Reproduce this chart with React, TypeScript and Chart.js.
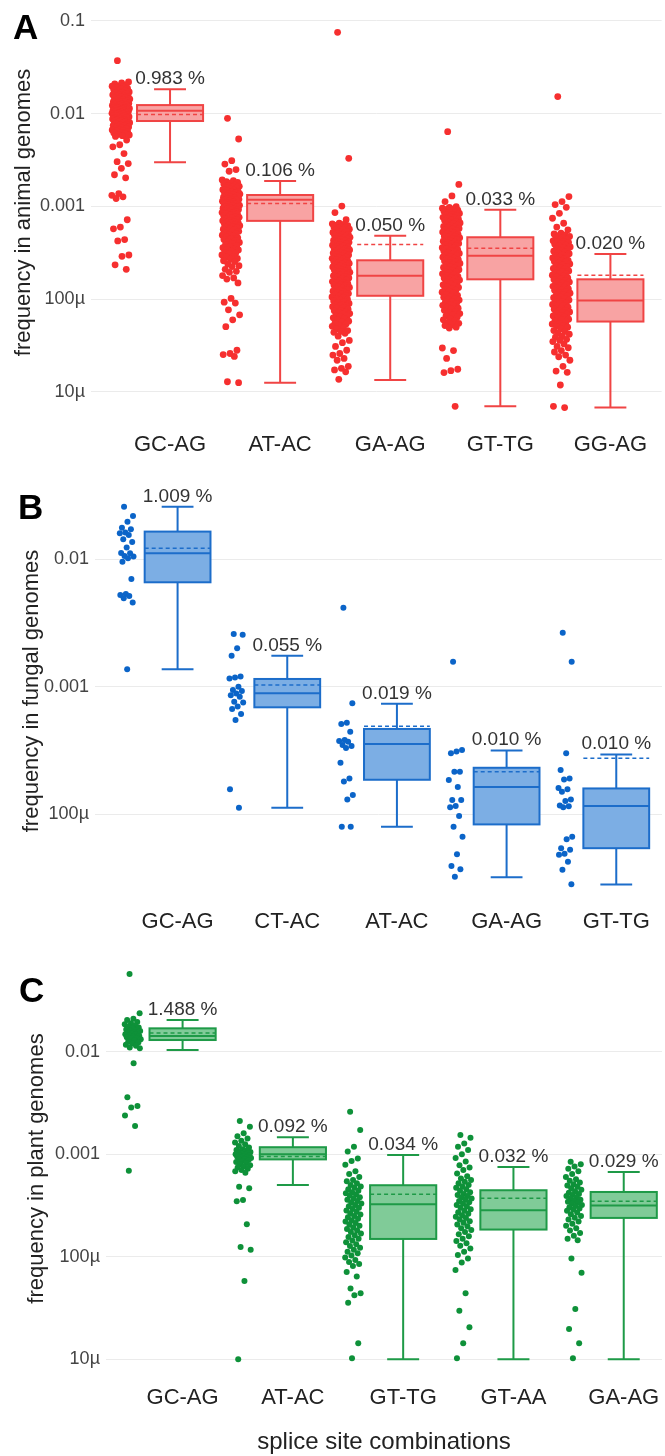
import React, { useEffect, useRef } from 'react';
import { Chart, registerables } from 'chart.js';

Chart.register(...registerables);

const MICRO = 1e-6;
const FONT = '"Liberation Sans", Arial, Helvetica, sans-serif';

// ---------- shared tick labels ----------
const TICK_VALUES = [0.1, 0.01, 0.001, 1e-4, 1e-5];
const TICK_LABELS = ['0.1', '0.01', '0.001', '100µ', '10µ'];

// ---------- Panel A: animal genomes ----------
const A_CATEGORIES = ['GC-AG', 'AT-AC', 'GA-AG', 'GT-TG', 'GG-AG'];
const A_PERCENT_LABELS = ['0.983 %', '0.106 %', '0.050 %', '0.033 %', '0.020 %'];
const A_WHISKER_HIGH = [0.0184, 0.00188, 0.000484, 0.000925, 0.000308];
const A_Q3 = [0.0124, 0.00133, 0.000263, 0.000466, 0.000164];
const A_MEDIAN = [0.0108, 0.00118, 0.000179, 0.000295, 0.000097];
const A_MEAN = [0.00983, 0.00108, 0.00039, 0.000355, 0.000181];
const A_Q1 = [0.00835, 0.0007, 0.000109, 0.000164, 0.0000575];
const A_WHISKER_LOW = [0.003, 0.0000126, 0.0000135, 0.000007, 0.0000068];
// genome values in µ (1e-6)
const A_PTS_GCAG = [37300, 22000, 21500, 21000, 20500, 20000, 19800, 19500, 19000, 18800, 18500, 18200, 17800, 17500, 17200, 17000, 16800, 16500, 16200, 16000, 15800, 15500, 15400, 15200, 15000, 14800, 14600, 14400, 14200, 14000, 13800, 13600, 13500, 13300, 13200, 13000, 12900, 12700, 12600, 12400, 12300, 12100, 12000, 11900, 11800, 11700, 11600, 11500, 11400, 11300, 11200, 11100, 11000, 10900, 10800, 10700, 10600, 10500, 10400, 10300, 10200, 10100, 10000, 9900, 9800, 9700, 9600, 9500, 9400, 9300, 9200, 9100, 9000, 8900, 8800, 8700, 8600, 8500, 8400, 8300, 8200, 8100, 8000, 7900, 7800, 7700, 7600, 7500, 7400, 7300, 7200, 7100, 7000, 6900, 6800, 6700, 6600, 6500, 6400, 6300, 6200, 6100, 6000, 5900, 5800, 5700, 5200, 4630, 4400, 3720, 3040, 2900, 2580, 2200, 2040, 1380, 1320, 1270, 1220, 720, 600, 575, 440, 425, 300, 290, 235, 210];
const A_PTS_ATAC = [8930, 5340, 3120, 2870, 2500, 2400, 1930, 1900, 1850, 1820, 1780, 1750, 1700, 1680, 1650, 1620, 1600, 1580, 1550, 1520, 1500, 1480, 1450, 1440, 1420, 1400, 1380, 1360, 1340, 1320, 1300, 1280, 1260, 1240, 1220, 1200, 1190, 1180, 1170, 1150, 1140, 1120, 1110, 1090, 1080, 1070, 1060, 1050, 1030, 1020, 1000, 990, 975, 960, 950, 940, 930, 915, 900, 885, 870, 860, 855, 840, 825, 810, 795, 780, 770, 765, 750, 735, 720, 710, 700, 690, 680, 670, 660, 650, 640, 630, 620, 610, 600, 590, 580, 570, 560, 550, 540, 530, 520, 510, 500, 490, 480, 470, 460, 450, 440, 430, 420, 410, 400, 390, 380, 370, 360, 350, 345, 340, 330, 320, 315, 310, 300, 290, 285, 275, 270, 260, 255, 240, 230, 225, 210, 200, 195, 180, 170, 165, 150, 102, 93, 91, 77, 68, 60, 50.6, 28.2, 26, 25.3, 24.2, 12.9, 12.6];
const A_PTS_GAAG = [75500, 3310, 1010, 860, 720, 660, 650, 640, 630, 620, 610, 600, 590, 585, 570, 560, 555, 540, 530, 525, 515, 510, 500, 495, 490, 480, 470, 465, 455, 450, 445, 438, 430, 425, 418, 412, 405, 400, 395, 388, 382, 376, 370, 364, 358, 352, 350, 346, 340, 335, 330, 325, 320, 315, 310, 305, 300, 295, 290, 285, 281, 276, 272, 268, 263, 260, 255, 250, 247, 243, 239, 235, 231, 227, 223, 220, 216, 212, 209, 205, 202, 200, 195, 192, 188, 185, 182, 179, 176, 173, 170, 167, 164, 161, 158, 155, 152, 150, 147, 145, 142, 140, 137, 134, 132, 130, 127, 125, 122, 120, 118, 115, 114, 112, 110, 108, 106, 104, 102, 100, 98, 96, 94, 92, 90, 88, 87, 85, 84, 83, 81, 80, 78, 76, 75, 73, 72, 70, 69, 67, 66, 65, 63, 62, 60, 58, 57, 55, 54, 52, 51, 49, 48, 46, 45, 44, 43, 40, 36, 34, 31, 28.2, 26, 25, 23, 22, 18.9, 18, 17.3, 16.5, 13.7];
const A_PTS_GTTG = [6410, 1730, 1300, 1130, 995, 980, 960, 945, 930, 915, 900, 885, 870, 855, 840, 820, 810, 795, 780, 765, 755, 740, 730, 715, 705, 690, 680, 665, 655, 640, 630, 620, 610, 600, 590, 580, 570, 560, 550, 540, 530, 520, 510, 500, 490, 482, 475, 467, 460, 452, 445, 440, 430, 422, 415, 408, 400, 392, 385, 378, 370, 360, 355, 348, 342, 336, 330, 324, 318, 312, 306, 300, 295, 289, 284, 278, 273, 268, 263, 258, 253, 250, 243, 238, 234, 229, 225, 220, 216, 210, 208, 204, 200, 196, 192, 188, 184, 180, 176, 172, 170, 168, 164, 161, 157, 154, 150, 147, 143, 140, 137, 134, 130, 128, 125, 122, 119, 116, 113, 110, 107, 105, 102, 100, 98, 95, 93, 90, 88, 86, 84, 82, 80, 78, 76, 74, 72, 70, 68, 66, 64, 62, 60, 58, 56, 55, 53, 52, 50, 49, 29.8, 28, 23, 17.6, 17, 16.2, 7.0];
const A_PTS_GGAG = [15300, 1280, 1130, 1050, 980, 845, 747, 660, 600, 560, 516, 505, 495, 485, 475, 465, 455, 445, 436, 427, 420, 418, 409, 400, 392, 383, 375, 367, 360, 352, 344, 337, 330, 323, 316, 310, 303, 297, 291, 285, 279, 273, 267, 262, 260, 256, 251, 245, 240, 235, 230, 225, 220, 215, 211, 205, 202, 198, 194, 190, 186, 182, 178, 174, 170, 166, 163, 160, 156, 153, 150, 147, 144, 141, 138, 135, 132, 129, 126, 125, 121, 118, 116, 113, 111, 108, 106, 104, 102, 100, 98, 95, 94, 92, 90, 88, 86, 84, 82, 80, 78, 76, 75, 73, 72, 70, 69, 67, 66, 64, 63, 61, 60, 58, 57, 55, 54, 52, 51, 50, 48, 46, 45, 43, 42, 40, 39, 37, 36, 35, 33, 31, 30, 28, 27, 25, 24, 22, 18.9, 16.8, 16.3, 11.9, 7.0, 6.8];
const A_POINTS = [A_PTS_GCAG, A_PTS_ATAC, A_PTS_GAAG, A_PTS_GTTG, A_PTS_GGAG];

// ---------- Panel B: fungal genomes ----------
const B_CATEGORIES = ['GC-AG', 'CT-AC', 'AT-AC', 'GA-AG', 'GT-TG'];
const B_PERCENT_LABELS = ['1.009 %', '0.055 %', '0.019 %', '0.010 %', '0.010 %'];
const B_WHISKER_HIGH = [0.0259, 0.00175, 0.000736, 0.000316, 0.000294];
const B_Q3 = [0.0165, 0.00115, 0.000466, 0.000231, 0.000159];
const B_MEDIAN = [0.01115, 0.000887, 0.000355, 0.000163, 0.000116];
const B_MEAN = [0.0122, 0.00103, 0.000489, 0.000215, 0.000274];
const B_Q1 = [0.0066, 0.000689, 0.000186, 0.000083, 0.000054];
const B_WHISKER_LOW = [0.00137, 0.000112, 0.0000797, 0.000032, 0.000028];
const B_PTS_GCAG = [25900, 21900, 19700, 17700, 17200, 16200, 16000, 15500, 14350, 13700, 12400, 11200, 11150, 10600, 10500, 10200, 9570, 7000, 5350, 5240, 5150, 4940, 4590, 1370];
const B_PTS_CTAC = [2590, 2560, 2000, 1750, 1200, 1180, 1160, 1000, 942, 925, 886, 855, 835, 762, 750, 700, 667, 611, 549, 157, 112];
const B_PTS_ATAC = [4170, 741, 521, 510, 443, 382, 375, 370, 349, 342, 330, 253, 190, 180, 141, 130, 79.6, 79.6];
const B_PTS_GAAG = [1570, 318, 310, 300, 215, 215, 185, 163, 129, 129, 116, 113, 96.6, 79.7, 66.5, 48.3, 39.1, 36.9, 32.3];
const B_PTS_GTTG = [2650, 1570, 300, 222, 190, 187, 160, 157, 150, 130, 127, 117, 115, 113, 66.5, 63.5, 54, 52.6, 48.8, 48, 42.3, 36.6, 28.2];
const B_POINTS = [B_PTS_GCAG, B_PTS_CTAC, B_PTS_ATAC, B_PTS_GAAG, B_PTS_GTTG];

// ---------- Panel C: plant genomes ----------
const C_CATEGORIES = ['GC-AG', 'AT-AC', 'GT-TG', 'GT-AA', 'GA-AG'];
const C_PERCENT_LABELS = ['1.488 %', '0.092 %', '0.034 %', '0.032 %', '0.029 %'];
const C_WHISKER_HIGH = [0.0204, 0.00146, 0.00098, 0.00075, 0.00067];
const C_Q3 = [0.0169, 0.00117, 0.000498, 0.000445, 0.000428];
const C_MEDIAN = [0.0142, 0.001, 0.000324, 0.000284, 0.000316];
const C_MEAN = [0.0152, 0.00095, 0.000406, 0.000371, 0.000347];
const C_Q1 = [0.013, 0.00089, 0.000149, 0.000184, 0.000239];
const C_WHISKER_LOW = [0.0104, 0.000501, 0.00001, 0.00001, 0.00001];
const C_PTS_GCAG = [57300, 23700, 21000, 20400, 19500, 19000, 18500, 18000, 17600, 17200, 16800, 16500, 16200, 16000, 15900, 15600, 15400, 15300, 15000, 14800, 14700, 14400, 14200, 14100, 13800, 13600, 13500, 13200, 12900, 12600, 12300, 12000, 11700, 11400, 11000, 10800, 7700, 3590, 2950, 2850, 2380, 1880, 690];
const C_PTS_ATAC = [2110, 1850, 1600, 1500, 1420, 1350, 1300, 1250, 1200, 1160, 1120, 1100, 1090, 1060, 1050, 1040, 1030, 1020, 1010, 1000, 990, 980, 970, 960, 950, 940, 930, 920, 900, 890, 880, 860, 840, 820, 800, 780, 760, 740, 720, 700, 680, 660, 482, 465, 357, 347, 207, 124, 117, 58, 10];
const C_PTS_GTTG = [2600, 1720, 1180, 1060, 910, 860, 790, 680, 640, 600, 560, 545, 520, 500, 485, 470, 455, 440, 425, 415, 405, 395, 380, 370, 360, 350, 340, 330, 320, 310, 300, 292, 283, 275, 266, 258, 250, 242, 234, 226, 220, 213, 206, 200, 193, 186, 180, 174, 168, 162, 156, 150, 144, 138, 132, 127, 122, 117, 112, 108, 103, 98, 93, 89, 85, 81, 71, 64, 49, 44, 42, 35.6, 14.3, 10.2];
const C_PTS_GTAA = [1540, 1450, 1270, 1180, 1100, 1000, 920, 850, 780, 740, 700, 650, 610, 580, 560, 540, 520, 500, 485, 470, 455, 440, 425, 410, 400, 390, 380, 370, 360, 350, 340, 330, 320, 310, 300, 290, 280, 271, 262, 254, 246, 238, 230, 222, 214, 206, 198, 190, 182, 174, 166, 158, 150, 142, 135, 128, 120, 112, 104, 96, 88, 74, 44, 29.7, 20.5, 14.3, 10.2];
const C_PTS_GAAG = [845, 800, 760, 720, 680, 640, 600, 570, 550, 530, 510, 495, 480, 465, 450, 435, 420, 410, 400, 390, 380, 370, 360, 352, 344, 336, 328, 320, 312, 304, 296, 288, 280, 270, 260, 250, 240, 230, 220, 210, 200, 190, 180, 170, 160, 150, 145, 96, 69.8, 30.9, 19.7, 14.3, 10.2];
const C_POINTS = [C_PTS_GCAG, C_PTS_ATAC, C_PTS_GTTG, C_PTS_GTAA, C_PTS_GAAG];

// ---------- layout / style ----------
const BOX_HALF = 0.30;
const CAP_HALF = 0.145;
const X_TICK_SIZE = 22;

const PANELS = [
  {
    letter: 'A', letterX: 13, letterBase: 39,
    top: 0, height: 470, plotTop: 10, plotBottom: 415, plotLeft: 91,
    anchorValue: 0.1, anchorPx: 21, decadePx: 92.75,
    xMin: -0.718, xMax: 4.465, xLabelGap: 30,
    yTitle: 'frequency in animal genomes', yTitleX: 24,
    point: '#F62F2F', line: '#F04444', fill: '#F8A3A3', radius: 3.4,
    ptOffset: -0.447, jitterHalf: 0.082,
    categories: A_CATEGORIES, labels: A_PERCENT_LABELS, hi: A_WHISKER_HIGH, q3: A_Q3,
    med: A_MEDIAN, mean: A_MEAN, q1: A_Q1, lo: A_WHISKER_LOW, points: A_POINTS,
  },
  {
    letter: 'B', letterX: 18, letterBase: 49,
    top: 470, height: 480, plotTop: 20, plotBottom: 422, plotLeft: 95,
    anchorValue: 0.01, anchorPx: 89.3, decadePx: 127.4,
    xMin: -0.753, xMax: 4.417, xLabelGap: 30,
    yTitle: 'frequency in fungal genomes', yTitleX: 32,
    point: '#0B64C8', line: '#1C6DCA', fill: '#7CAEE4', radius: 3,
    ptOffset: -0.463, jitterHalf: 0.066,
    categories: B_CATEGORIES, labels: B_PERCENT_LABELS, hi: B_WHISKER_HIGH, q3: B_Q3,
    med: B_MEDIAN, mean: B_MEAN, q1: B_Q1, lo: B_WHISKER_LOW, points: B_POINTS,
  },
  {
    letter: 'C', letterX: 19, letterBase: 52,
    top: 950, height: 506, plotTop: 15, plotBottom: 422, plotLeft: 106,
    anchorValue: 0.01, anchorPx: 101.7, decadePx: 102.5,
    xMin: -0.6945, xMax: 4.347, xLabelGap: 26,
    yTitle: 'frequency in plant genomes', yTitleX: 37,
    xTitle: 'splice site combinations',
    point: '#0E9139', line: '#1E9A47', fill: '#80CB98', radius: 3,
    ptOffset: -0.453, jitterHalf: 0.074,
    categories: C_CATEGORIES, labels: C_PERCENT_LABELS, hi: C_WHISKER_HIGH, q3: C_Q3,
    med: C_MEDIAN, mean: C_MEAN, q1: C_Q1, lo: C_WHISKER_LOW, points: C_POINTS,
  },
];

const jitter = (i: number) => ((i * 0.6180339887 + 0.31) % 1) * 2 - 1;

function tickLabel(v: number) {
  const idx = TICK_VALUES.findIndex((t) => Math.abs(Math.log10(t) - Math.log10(v)) < 1e-6);
  return idx >= 0 ? TICK_LABELS[idx] : '';
}

function makeBoxPlugin(p: any) {
  return {
    id: 'boxes' + p.letter,
    afterDatasetsDraw(chart: any) {
      const { ctx } = chart;
      const x = chart.scales.x;
      const y = chart.scales.y;
      ctx.save();
      p.categories.forEach((_: string, i: number) => {
        const cx = x.getPixelForValue(i);
        const xl = x.getPixelForValue(i - BOX_HALF);
        const xr = x.getPixelForValue(i + BOX_HALF);
        const cl = x.getPixelForValue(i - CAP_HALF);
        const cr = x.getPixelForValue(i + CAP_HALF);
        const yHi = y.getPixelForValue(p.hi[i]);
        const yQ3 = y.getPixelForValue(p.q3[i]);
        const yMed = y.getPixelForValue(p.med[i]);
        const yMean = y.getPixelForValue(p.mean[i]);
        const yQ1 = y.getPixelForValue(p.q1[i]);
        const yLo = y.getPixelForValue(p.lo[i]);
        ctx.strokeStyle = p.line;
        ctx.lineWidth = 2;
        ctx.setLineDash([]);
        ctx.beginPath();
        ctx.moveTo(cx, yHi); ctx.lineTo(cx, yQ3);
        ctx.moveTo(cx, yQ1); ctx.lineTo(cx, yLo);
        ctx.moveTo(cl, yHi); ctx.lineTo(cr, yHi);
        ctx.moveTo(cl, yLo); ctx.lineTo(cr, yLo);
        ctx.stroke();
        ctx.fillStyle = p.fill;
        ctx.fillRect(xl, yQ3, xr - xl, yQ1 - yQ3);
        ctx.strokeRect(xl, yQ3, xr - xl, yQ1 - yQ3);
        ctx.beginPath();
        ctx.moveTo(xl, yMed); ctx.lineTo(xr, yMed);
        ctx.stroke();
        ctx.lineWidth = 1.5;
        ctx.setLineDash([4, 3]);
        ctx.beginPath();
        ctx.moveTo(xl, yMean); ctx.lineTo(xr, yMean);
        ctx.stroke();
        ctx.setLineDash([]);
        ctx.fillStyle = '#333333';
        ctx.font = `19px ${FONT}`;
        ctx.textAlign = 'center';
        ctx.textBaseline = 'alphabetic';
        ctx.fillText(p.labels[i], cx, yHi - 5);
      });
      ctx.restore();
    },
    afterDraw(chart: any) {
      const { ctx } = chart;
      ctx.save();
      ctx.fillStyle = '#000000';
      ctx.font = `bold 35px ${FONT}`;
      ctx.textAlign = 'left';
      ctx.textBaseline = 'alphabetic';
      ctx.fillText(p.letter, p.letterX, p.letterBase);
      ctx.restore();
    },
  };
}

function buildConfig(p: any) {
  const yMax = Math.pow(10, Math.log10(p.anchorValue) + (p.anchorPx - p.plotTop) / p.decadePx);
  const yMin = Math.pow(10, Math.log10(p.anchorValue) - (p.plotBottom - p.anchorPx) / p.decadePx);
  const data: { x: number; y: number }[] = [];
  p.points.forEach((vals: number[], ci: number) => {
    vals.forEach((v, i) => {
      data.push({ x: ci + p.ptOffset + jitter(i) * p.jitterHalf, y: v * MICRO });
    });
  });
  const yTitleFont = 22;
  return {
    type: 'scatter',
    data: {
      datasets: [
        {
          data,
          backgroundColor: p.point,
          borderWidth: 0,
          pointRadius: p.radius,
          pointHoverRadius: p.radius,
        },
      ],
    },
    options: {
      responsive: false,
      animation: false,
      events: [],
      layout: { padding: { top: p.plotTop, right: 0, left: 0, bottom: 0 } },
      plugins: { legend: { display: false }, tooltip: { enabled: false } },
      scales: {
        x: {
          type: 'linear',
          min: p.xMin,
          max: p.xMax,
          grid: { display: false, drawTicks: false },
          border: { display: false },
          afterBuildTicks: (s: any) => {
            s.ticks = p.categories.map((_: string, i: number) => ({ value: i }));
          },
          afterFit: (s: any) => {
            s.height = p.height - p.plotBottom;
            s.paddingLeft = 0;
            s.paddingRight = 0;
          },
          ticks: {
            autoSkip: false,
            maxRotation: 0,
            minRotation: 0,
            padding: p.xLabelGap - (X_TICK_SIZE * 1.2) / 2,
            color: '#222222',
            font: { family: FONT, size: X_TICK_SIZE, lineHeight: 1.2 },
            callback: (v: number) => p.categories[Math.round(v)] ?? '',
          },
          title: {
            display: !!p.xTitle,
            text: p.xTitle || '',
            color: '#222222',
            font: { family: FONT, size: 24, lineHeight: 1.2 },
            padding: { top: 0, bottom: -1 },
          },
        },
        y: {
          type: 'logarithmic',
          min: yMin,
          max: yMax,
          grid: { color: '#EBEBEB', lineWidth: 1, drawTicks: false },
          border: { display: false },
          afterBuildTicks: (s: any) => {
            s.ticks = TICK_VALUES.filter((t) => t >= yMin && t <= yMax).map((t) => ({ value: t }));
          },
          afterFit: (s: any) => {
            s.width = p.plotLeft;
            s.paddingTop = 0;
            s.paddingBottom = 0;
          },
          ticks: {
            padding: 6,
            color: '#444444',
            font: { family: FONT, size: 18 },
            callback: (v: number) => tickLabel(v),
          },
          title: {
            display: true,
            text: p.yTitle,
            color: '#222222',
            font: { family: FONT, size: yTitleFont, lineHeight: 1.2 },
            padding: { top: p.yTitleX - (yTitleFont * 1.2) / 2, bottom: 0 },
          },
        },
      },
    },
    plugins: [makeBoxPlugin(p)],
  };
}

function Panel({ cfg }: { cfg: any }) {
  const ref = useRef<HTMLCanvasElement | null>(null);
  useEffect(() => {
    if (!ref.current) return;
    const chart = new Chart(ref.current, buildConfig(cfg) as any);
    return () => chart.destroy();
  }, [cfg]);
  return (
    <canvas
      ref={ref}
      width={665}
      height={cfg.height}
      style={{ position: 'absolute', left: 0, top: cfg.top, width: 665, height: cfg.height, display: 'block' }}
    />
  );
}

export default function App() {
  return (
    <div style={{ position: 'absolute', left: 0, top: 0, width: 665, height: 1456, background: '#ffffff' }}>
      {PANELS.map((p) => (
        <Panel key={p.letter} cfg={p} />
      ))}
    </div>
  );
}
